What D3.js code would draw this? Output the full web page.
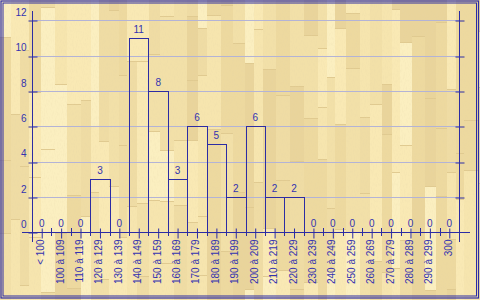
<!DOCTYPE html>
<html><head><meta charset="utf-8">
<script src="https://cdn.jsdelivr.net/npm/d3@7"></script>
<style>html,body{margin:0;padding:0;background:#f0dea6;} svg{display:block}</style>
</head><body><svg id="c" width="480" height="300"></svg>
<script>
const categories = ["< 100","100 à 109","110 à 119","120 à 129","130 à 139","140 à 149","150 à 159","160 à 169","170 à 179","180 à 189","190 à 199","200 à 209","210 à 219","220 à 229","230 à 239","240 à 249","250 à 259","260 à 269","270 à 279","280 à 289","290 à 299","300"];
const values = [0,0,0,3,0,11,8,3,6,5,2,6,2,2,0,0,0,0,0,0,0,0];
const yTicks = [0,2,4,6,8,10,12];

const BLUE = "#2c2ca4", TXT = "#3333b0", GRID = "#b3b3d6";
const svg = d3.select("#c");
const FONT = "'Liberation Sans', Arial, sans-serif";

// --- wood parquet background (decorative) ---
let seed = 20240611;
function rnd(){ seed = (seed*1664525 + 1013904223) % 4294967296; return seed/4294967296; }
const woodCols = ["#f9e9b4","#f2e0a8","#edd99f","#fbefc0","#efdca4","#e9d49b","#f6e5ae"];
const defs = svg.append("defs");
const f = defs.append("filter").attr("id","grain").attr("x",0).attr("y",0).attr("width",1).attr("height",1);
f.append("feTurbulence").attr("type","fractalNoise").attr("baseFrequency","0.9 0.3").attr("numOctaves",2).attr("seed",3).attr("result","n");
f.append("feColorMatrix").attr("in","n").attr("type","matrix")
 .attr("values","0 0 0 0 0.78  0 0 0 0 0.66  0 0 0 0 0.4  0 0 0 -1.8 1.0");
const bg = svg.append("g");
let xx = 0;
while (xx < 480) {
  const w = 8 + Math.floor(rnd()*7);
  let yy = -Math.floor(rnd()*90);
  while (yy < 300) {
    const h = 45 + Math.floor(rnd()*120);
    bg.append("rect").attr("x",xx).attr("y",yy).attr("width",w).attr("height",h)
      .attr("fill", woodCols[Math.floor(rnd()*woodCols.length)]);
    bg.append("line").attr("x1",xx).attr("x2",xx+w).attr("y1",yy+0.5).attr("y2",yy+0.5)
      .style("stroke","#e0ca90").style("stroke-width",1);
    yy += h;
  }
  xx += w;
}
bg.append("rect").attr("width",480).attr("height",300).attr("filter","url(#grain)").attr("opacity",0.25);

// --- borders ---
svg.append("rect").attr("x",1).attr("y",1).attr("width",477.5).attr("height",297)
  .style("fill","none").style("stroke",BLUE).style("stroke-width",1.2);
svg.append("rect").attr("x",3).attr("y",3).attr("width",473.5).attr("height",293)
  .style("fill","none").style("stroke",BLUE).style("stroke-width",1);

// --- scales ---
const x = d3.scaleBand().domain(categories).range([32, 459]).padding(0);
const y = d3.scaleLinear().domain([0, 12]).range([232.4, 20.3]);

// gridlines
const gridG = svg.append("g");
gridG.selectAll("line").data(yTicks.filter(d => d > 0)).join("line")
  .attr("x1", 32).attr("x2", 459)
  .attr("y1", d => Math.round(y(d)) + 0.5).attr("y2", d => Math.round(y(d)) + 0.5)
  .style("stroke", GRID).style("stroke-width", 1);

// bars (outline only)
const barG = svg.append("g");
barG.selectAll("rect").data(values.map((v,i)=>({c:categories[i], v})).filter(d => d.v > 0)).join("rect")
  .attr("x", d => Math.round(x(d.c)) + 0.5)
  .attr("y", d => Math.round(y(d.v)) + 0.5)
  .attr("width", d => Math.round(x(d.c) + x.bandwidth()) - Math.round(x(d.c)))
  .attr("height", d => Math.round(y(0)) - Math.round(y(d.v)))
  .style("fill", "none").style("stroke", BLUE).style("stroke-width", 1);

// value labels
svg.append("g").selectAll("text").data(values.map((v,i)=>({c:categories[i], v}))).join("text")
  .attr("x", d => x(d.c) + x.bandwidth()/2)
  .attr("y", d => Math.round(y(d.v)) - 5)
  .attr("text-anchor", "middle")
  .attr("font-family", FONT).attr("font-size", 10).attr("fill", TXT)
  .text(d => d.v);

// left axis
const ly = svg.append("g").attr("transform", "translate(32.5,0)")
  .call(d3.axisLeft(y).tickValues(yTicks).tickSize(0).tickPadding(6));
ly.select(".domain").remove();
ly.selectAll(".tick line").attr("x1", -4).attr("x2", 5).style("stroke", BLUE)
  .attr("transform", d => `translate(0,${Math.round(y(d)) + 0.5 - y(d)})`);
ly.selectAll(".tick text").attr("font-family", FONT).attr("font-size", 10).attr("fill", TXT)
  .attr("dy", "0").attr("y", -5).attr("x", -6);
svg.append("line").attr("x1", 32.5).attr("x2", 32.5).attr("y1", 11).attr("y2", 242).style("stroke", BLUE);

// right axis
const ry = svg.append("g").attr("transform", "translate(459.5,0)")
  .call(d3.axisRight(y).tickValues(yTicks.filter(d=>d>0)).tickSize(0).tickFormat(""));
ry.select(".domain").remove();
ry.selectAll(".tick line").attr("x1", -4).attr("x2", 5).style("stroke", BLUE)
  .attr("transform", d => `translate(0,${Math.round(y(d)) + 0.5 - y(d)})`);
svg.append("line").attr("x1", 459.5).attr("x2", 459.5).attr("y1", 11).attr("y2", 242).style("stroke", BLUE);

// bottom axis
const y0 = Math.round(y(0)) + 0.5;
const by = svg.append("g").attr("transform", `translate(0,${y0})`)
  .call(d3.axisBottom(x).tickSize(0).tickPadding(0));
by.select(".domain").remove();
by.selectAll(".tick line").attr("y1", -4).attr("y2", 6).style("stroke", BLUE)
  .attr("transform", "translate(0.5,0)");
by.selectAll(".tick text")
  .attr("font-family", FONT).attr("font-size", 10).attr("fill", TXT)
  .attr("text-anchor", "end")
  .attr("transform", "translate(-1,7) rotate(-90)")
  .attr("x", 0).attr("y", 0).attr("dy", "0.35em");
svg.append("line").attr("x1", 22).attr("x2", 470).attr("y1", y0).attr("y2", y0).style("stroke", BLUE);
// boundary ticks
svg.append("g").selectAll("line").data(categories.slice(1)).join("line")
  .attr("x1", d => Math.round(x(d)) + 0.5).attr("x2", d => Math.round(x(d)) + 0.5)
  .attr("y1", y0 - 4.5).attr("y2", y0 + 3.5).style("stroke", BLUE);
</script></body></html>
